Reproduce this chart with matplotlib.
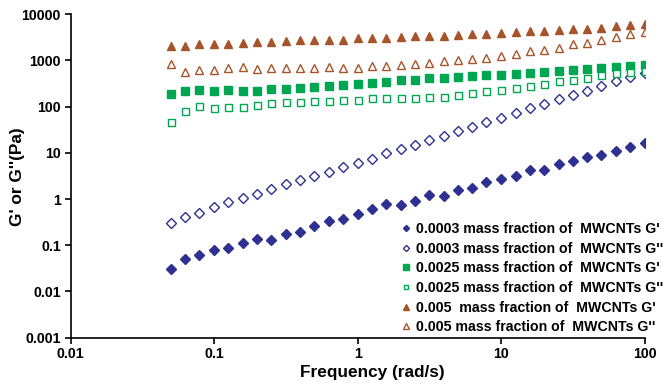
import matplotlib
matplotlib.use("Agg")
import matplotlib.pyplot as plt

freq = [0.05, 0.063, 0.079, 0.1, 0.126, 0.158, 0.2, 0.251, 0.316, 0.398,
        0.5, 0.63, 0.79, 1.0, 1.26, 1.58, 2.0, 2.51, 3.16, 3.98,
        5.0, 6.3, 7.9, 10.0, 12.6, 15.8, 20.0, 25.1, 31.6, 39.8,
        50.0, 63.0, 79.0, 100.0]

g1_0003 = [0.030, 0.051, 0.061, 0.081, 0.086, 0.112, 0.137, 0.132, 0.18, 0.194,
           0.26, 0.33, 0.38, 0.47, 0.61, 0.77, 0.73, 0.91, 1.22, 1.18,
           1.54, 1.76, 2.29, 2.75, 3.14, 4.16, 4.23, 5.79, 6.61, 8.06,
           9.06, 11.0, 13.2, 16.2]
g2_0003 = [0.303, 0.41, 0.50, 0.66, 0.85, 1.07, 1.30, 1.64, 2.11, 2.57,
           3.14, 3.95, 4.91, 6.18, 7.55, 9.84, 12.2, 15.1, 18.8, 23.3,
           29.4, 36.4, 45.9, 56.9, 71.8, 92, 112, 144, 179, 221,
           279, 358, 437, 542]
g1_0025 = [185, 214, 225, 218, 225, 218, 218, 237, 240, 249,
           261, 284, 294, 308, 324, 341, 370, 376, 409, 409,
           430, 452, 475, 491, 507, 533, 560, 589, 618, 650,
           683, 706, 743, 780]
g2_0025 = [46, 80, 106, 93, 99, 101, 111, 121, 128, 128,
           134, 136, 141, 139, 151, 153, 153, 158, 160, 166,
           181, 198, 219, 231, 259, 283, 310, 354, 385, 425,
           478, 530, 573, 600]
g1_005 = [2040, 2110, 2290, 2330, 2330, 2410, 2490, 2530, 2660, 2750,
          2750, 2840, 2840, 3030, 3030, 3140, 3240, 3350, 3410, 3460,
          3640, 3760, 3830, 4020, 4160, 4300, 4440, 4590, 4750, 4830,
          5160, 5510, 5790, 6290]
g2_005 = [834, 569, 618, 618, 672, 718, 650, 672, 695, 695,
          672, 718, 672, 695, 755, 767, 780, 834, 891, 968,
          1016, 1086, 1161, 1282, 1416, 1590, 1671, 1909, 2254, 2444,
          2793, 3190, 3698, 4225]

labels = ["0.0003 mass fraction of  MWCNTs G'",
          "0.0003 mass fraction of  MWCNTs G''",
          "0.0025 mass fraction of  MWCNTs G'",
          "0.0025 mass fraction of  MWCNTs G''",
          "0.005  mass fraction of  MWCNTs G'",
          "0.005 mass fraction of  MWCNTs G''"]

xticks = [0.01, 0.1, 1, 10, 100]
xticklabels = ["0.01", "0.1", "1", "10", "100"]
yticks = [0.001, 0.01, 0.1, 1, 10, 100, 1000, 10000]
yticklabels = ["0.001", "0.01", "0.1", "1", "10", "100", "1000", "10000"]

blue = "#2E3192"
green = "#00A651"
brown = "#A6542A"

plt.rcParams['font.family'] = ['Liberation Sans', 'DejaVu Sans']
plt.rcParams['font.weight'] = 'bold'

fig = plt.figure(figsize=(6.65, 3.9), dpi=100)
ax = fig.add_axes([70.5/665, 1-337.7/390, (644.7-70.5)/665, (337.7-14.3)/390])

ms = 5.6
ax.plot(freq, g1_0003, linestyle='none', marker='D', ms=ms*0.85, color=blue, mec=blue, label=labels[0])
ax.plot(freq, g2_0003, linestyle='none', marker='D', ms=ms*0.85, mfc='white', mec=blue, mew=1.0, label=labels[1])
ax.plot(freq, g1_0025, linestyle='none', marker='s', ms=ms, color=green, mec=green, label=labels[2])
ax.plot(freq, g2_0025, linestyle='none', marker='s', ms=ms*0.9, mfc='white', mec=green, mew=1.0, label=labels[3])
ax.plot(freq, g1_005, linestyle='none', marker='^', ms=ms*1.1, color=brown, mec=brown, label=labels[4])
ax.plot(freq, g2_005, linestyle='none', marker='^', ms=ms*1.1, mfc='white', mec=brown, mew=1.0, label=labels[5])

ax.set_xscale('log')
ax.set_yscale('log')
ax.set_xlim(0.01, 100)
ax.set_ylim(0.001, 10000)
ax.set_xticks(xticks)
ax.set_xticklabels(xticklabels)
ax.set_yticks(yticks)
ax.set_yticklabels(yticklabels)
ax.minorticks_off()
for s in ['top', 'right']:
    ax.spines[s].set_visible(False)
for s in ['left', 'bottom']:
    ax.spines[s].set_linewidth(1.2)
ax.tick_params(axis='both', which='major', direction='out', length=4, width=1.2,
               labelsize=10.2, pad=3)
for lab in ax.get_xticklabels() + ax.get_yticklabels():
    lab.set_fontweight('bold')

ax.set_xlabel("Frequency (rad/s)", fontsize=12.4, fontweight='bold', labelpad=2)
ax.xaxis.set_label_coords((372-70.5)/(644.7-70.5), -0.085)
ax.set_ylabel("G' or G''(Pa)", fontsize=12.4, fontweight='bold', labelpad=4)
ax.yaxis.set_label_coords((25-70.5)/(644.7-70.5), (337.7-177)/(337.7-14.3))

leg = ax.legend(loc='upper left', bbox_to_anchor=(402/665, 1-222/390),
                bbox_transform=fig.transFigure, frameon=False,
                prop={'family': 'Liberation Sans', 'weight': 'bold', 'size': 10.2},
                markerscale=0.65, handlelength=0.6, handletextpad=0.4,
                labelspacing=0.4, borderpad=0, borderaxespad=0)

fig.savefig("out.png", dpi=100)
